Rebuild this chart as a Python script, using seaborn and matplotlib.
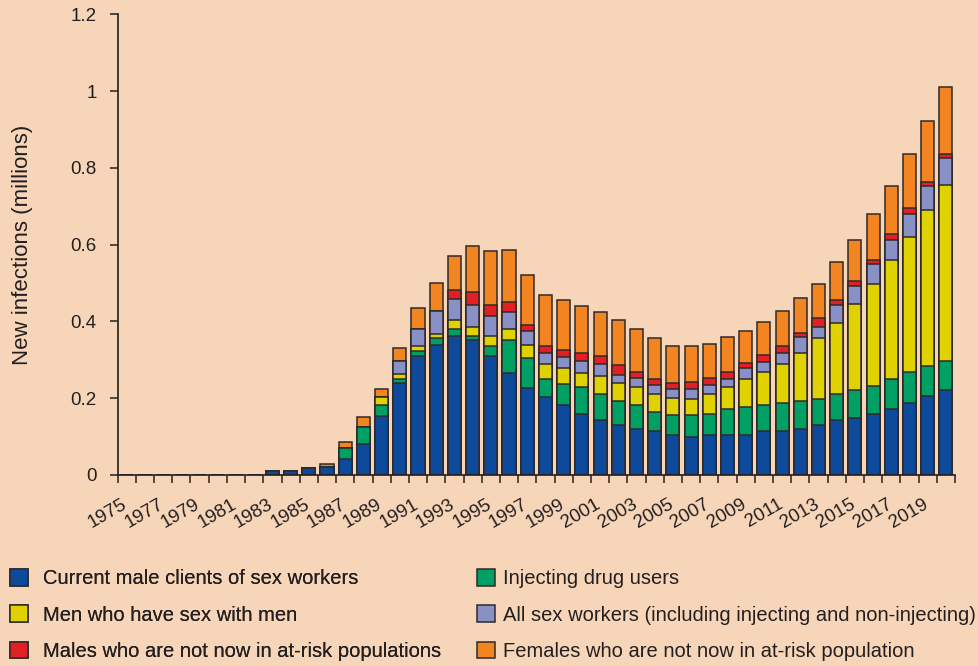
import matplotlib
matplotlib.use('Agg')
import matplotlib.pyplot as plt
import matplotlib.transforms as mtransforms
from matplotlib.patches import Patch
import numpy as np
import pandas as pd
import seaborn as sns

# data (millions of new infections)
years = list(range(1975, 2021))
zeros = [0.0] * 8  # 1975-1982

clients = zeros + [0.010, 0.010, 0.019, 0.020, 0.042, 0.081, 0.154, 0.239, 0.311, 0.339,
                   0.362, 0.352, 0.311, 0.266, 0.226, 0.204, 0.182, 0.159, 0.142, 0.131,
                   0.120, 0.114, 0.103, 0.098, 0.103, 0.103, 0.103, 0.114, 0.114, 0.120,
                   0.131, 0.143, 0.149, 0.160, 0.171, 0.188, 0.205, 0.222]
idu = zeros + [0.0, 0.0, 0.0, 0.0, 0.028, 0.045, 0.028, 0.011, 0.013, 0.018,
               0.018, 0.011, 0.024, 0.085, 0.079, 0.046, 0.056, 0.069, 0.069, 0.062,
               0.063, 0.051, 0.052, 0.057, 0.056, 0.068, 0.074, 0.068, 0.074, 0.074,
               0.068, 0.068, 0.073, 0.073, 0.080, 0.079, 0.080, 0.074]
msm = zeros + [0.0, 0.0, 0.0, 0.0, 0.0, 0.0, 0.022, 0.013, 0.011, 0.011,
               0.023, 0.023, 0.028, 0.029, 0.034, 0.040, 0.041, 0.038, 0.046, 0.046,
               0.045, 0.046, 0.045, 0.044, 0.052, 0.057, 0.074, 0.085, 0.102, 0.125,
               0.159, 0.185, 0.224, 0.265, 0.309, 0.354, 0.404, 0.460]
sex_workers = zeros + [0.0, 0.0, 0.0, 0.0, 0.0, 0.0, 0.0, 0.033, 0.044, 0.058,
                       0.056, 0.056, 0.051, 0.045, 0.035, 0.029, 0.028, 0.030, 0.033, 0.022,
                       0.024, 0.023, 0.023, 0.024, 0.023, 0.023, 0.028, 0.028, 0.029, 0.040,
                       0.028, 0.046, 0.047, 0.051, 0.051, 0.059, 0.063, 0.069]
males_other = zeros + [0.0, 0.0, 0.0, 0.0, 0.0, 0.0, 0.0, 0.0, 0.0, 0.0,
                       0.023, 0.035, 0.028, 0.025, 0.018, 0.017, 0.018, 0.023, 0.019, 0.025,
                       0.017, 0.017, 0.016, 0.018, 0.018, 0.018, 0.012, 0.018, 0.017, 0.011,
                       0.022, 0.013, 0.013, 0.012, 0.017, 0.016, 0.011, 0.012]
females_other = zeros + [0.0, 0.0, 0.0, 0.008, 0.015, 0.024, 0.021, 0.035, 0.055, 0.074,
                         0.088, 0.119, 0.142, 0.135, 0.130, 0.133, 0.130, 0.120, 0.116, 0.117,
                         0.110, 0.107, 0.097, 0.096, 0.090, 0.091, 0.085, 0.086, 0.090, 0.090,
                         0.090, 0.100, 0.106, 0.119, 0.125, 0.141, 0.159, 0.174]

labels = ['Current male clients of sex workers',
          'Injecting drug users',
          'Men who have sex with men',
          'All sex workers (including injecting and non-injecting)',
          'Males who are not now in at-risk populations',
          'Females who are not now in at-risk population']
colors = ['#0d4a9b', '#00a064', '#e0d200', '#8890c6', '#e31e25', '#f28421']

df = pd.DataFrame({'year': [str(y) for y in years]})
for lab, vals in zip(labels, [clients, idu, msm, sex_workers, males_other, females_other]):
    df[lab] = vals
cum = df[labels].cumsum(axis=1)
cum['year'] = df['year']

bg = '#f7d5b8'
ink = '#231f20'
edge = '#2e2a2a'
sns.set_style('ticks')
plt.rcParams['font.family'] = ['Liberation Sans', 'DejaVu Sans']
plt.rcParams['text.color'] = ink
plt.rcParams['axes.labelcolor'] = ink
plt.rcParams['xtick.color'] = ink
plt.rcParams['ytick.color'] = ink

fig = plt.figure(figsize=(9.79, 6.66), dpi=100, facecolor=bg)
ax = fig.add_axes([0.1202, 0.2868, 0.8553, 0.6917])
ax.set_facecolor(bg)

# layered cumulative bars, top layer first
for lab, col in reversed(list(zip(labels, colors))):
    sns.barplot(data=cum, x='year', y=lab, color=col, saturation=1, width=0.72,
                edgecolor=edge, linewidth=1.1, ax=ax, zorder=2)

ax.set_xlim(-0.5, len(years) - 0.5)
ax.set_ylim(0, 1.2)
ax.set_yticks([0, 0.2, 0.4, 0.6, 0.8, 1.0, 1.2])
ax.set_yticklabels(['0', '0.2', '0.4', '0.6', '0.8', '1', '1.2'], fontsize=13.5)
ax.set_xticks(range(0, len(years), 2))
ax.set_xticklabels([str(y) for y in years[::2]], rotation=30, ha='right',
                   rotation_mode='anchor', fontsize=13.5)
ax.set_xticks(np.arange(-0.5, len(years), 1), minor=True)
ax.tick_params(axis='x', which='major', length=0, pad=15)
ax.tick_params(axis='x', which='minor', length=6, width=1.1, direction='out')
ax.tick_params(axis='y', length=6, width=1.1, pad=9)
# nudge the year labels left so they end at the tick
shift = mtransforms.ScaledTranslation(-5 / 100, 0, fig.dpi_scale_trans)
for t in ax.get_xticklabels():
    t.set_transform(t.get_transform() + shift)
ax.set_xlabel('')
ax.set_ylabel('New infections (millions)', fontsize=16)
ax.yaxis.set_label_coords(-0.101, 0.5)
sns.despine(ax=ax)
for s in ['left', 'bottom']:
    ax.spines[s].set_color(ink)
    ax.spines[s].set_linewidth(1.2)

# legend in two hand-placed columns
handles = [Patch(facecolor=c, edgecolor=edge, linewidth=1.1) for c in colors]
leg_kw = dict(loc='center left', frameon=False, fontsize=14.5, handlelength=0.9,
              handleheight=0.9, labelspacing=0.85, borderpad=0, borderaxespad=0)
left = [0, 2, 4]
right = [1, 3, 5]
leg1 = fig.legend([handles[i] for i in left], [labels[i] for i in left],
                  bbox_to_anchor=(10 / 979, 0.0766), handletextpad=0.75, **leg_kw)
fig.add_artist(leg1)
fig.legend([handles[i] for i in right], [labels[i] for i in right],
           bbox_to_anchor=(477 / 979, 0.0766), handletextpad=0.4, **leg_kw)

fig.savefig('out.png', dpi=100, facecolor=bg)
